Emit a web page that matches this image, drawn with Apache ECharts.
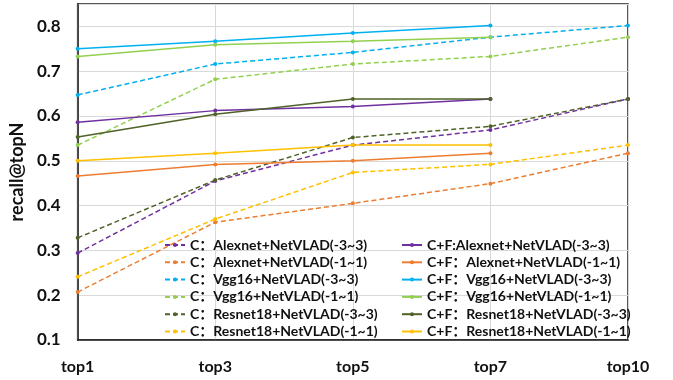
<!DOCTYPE html>
<html><head><meta charset="utf-8">
<script src="https://cdn.jsdelivr.net/npm/echarts@6/dist/echarts.min.js"></script>
<style>html,body{margin:0;padding:0;background:#fff}#c{width:673px;height:380px}</style>
</head><body><div id="c"></div>
<script>
var categories = ['top1','top3','top5','top7','top10'];
var colors = ['#7030A0','#ED7D31','#00B0F0','#92D050','#4F6228','#FFC000'];
var cLabels = ['C：Alexnet+NetVLAD(-3~3)','C：Alexnet+NetVLAD(-1~1)','C：Vgg16+NetVLAD(-3~3)','C：Vgg16+NetVLAD(-1~1)','C：Resnet18+NetVLAD(-3~3)','C：Resnet18+NetVLAD(-1~1)'];
var cfLabels = ['C+F:Alexnet+NetVLAD(-3~3)','C+F：Alexnet+NetVLAD(-1~1)','C+F：Vgg16+NetVLAD(-3~3)','C+F：Vgg16+NetVLAD(-1~1)','C+F：Resnet18+NetVLAD(-3~3)','C+F：Resnet18+NetVLAD(-1~1)'];
// C (dashed)
var cAlex33 = [0.294, 0.455, 0.535, 0.569, 0.638];
var cAlex11 = [0.207, 0.363, 0.405, 0.449, 0.517];
var cVgg33  = [0.647, 0.716, 0.742, 0.776, 0.802];
var cVgg11  = [0.535, 0.682, 0.716, 0.733, 0.776];
var cRes33  = [0.328, 0.457, 0.552, 0.577, 0.638];
var cRes11  = [0.241, 0.370, 0.474, 0.492, 0.535];
// C+F (solid)
var cfAlex33 = [0.586, 0.612, 0.621, 0.638, null];
var cfAlex11 = [0.466, 0.492, 0.500, 0.517, null];
var cfVgg33  = [0.750, 0.767, 0.785, 0.802, null];
var cfVgg11  = [0.733, 0.759, 0.767, 0.776, null];
var cfRes33  = [0.553, 0.604, 0.638, 0.638, null];
var cfRes11  = [0.500, 0.517, 0.535, 0.535, null];
var yMin = 0.1, yMax = 0.85, yInterval = 0.1;

var cData = [cAlex33,cAlex11,cVgg33,cVgg11,cRes33,cRes11];
var cfData = [cfAlex33,cfAlex11,cfVgg33,cfVgg11,cfRes33,cfRes11];
var FONT = 'Lato, "Noto Sans CJK SC", sans-serif';
var series = [];
cData.forEach(function(d,i){
  series.push({name:cLabels[i], type:'line', data:d, symbol:'circle', symbolSize:4, showSymbol:true,
    itemStyle:{color:colors[i]}, lineStyle:{color:colors[i], width:1.5, type:[5,3]}, z:2});
});
cfData.forEach(function(d,i){
  series.push({name:cfLabels[i], type:'line', data:d, symbol:'circle', symbolSize:4, showSymbol:true,
    itemStyle:{color:colors[i]}, lineStyle:{color:colors[i], width:1.5, type:'solid'}, z:3});
});
var legendText = {fontFamily:FONT, fontWeight:'bold', fontSize:14, lineHeight:14, color:'#111'};
var chart = echarts.init(document.getElementById('c'));
chart.setOption({
  animation:false,
  backgroundColor:'#fff',
  color:colors,
  grid:{left:70, right:45, top:4, bottom:40, show:true, borderColor:'#222', borderWidth:1.5, backgroundColor:'transparent'},
  legend:[
    {data:cLabels, orient:'vertical', left:164, top:238, itemWidth:20, itemHeight:5, itemGap:3.3, textStyle:legendText, padding:0},
    {data:cfLabels, orient:'vertical', left:401, top:238, itemWidth:20, itemHeight:5, itemGap:3.3, textStyle:legendText, padding:0}
  ],
  xAxis:{type:'category', data:categories, boundaryGap:false,
    axisLine:{lineStyle:{color:'#222', width:1.5}}, axisTick:{show:false},
    axisLabel:{fontFamily:FONT, fontWeight:'bold', fontSize:16, color:'#111', margin:19},
    splitLine:{show:true, lineStyle:{color:'#d9d9d9', width:1}}},
  yAxis:{type:'value', min:yMin, max:yMax, interval:yInterval,
    name:'recall@topN', nameLocation:'middle', nameGap:36,
    nameTextStyle:{fontFamily:FONT, fontWeight:'bold', fontSize:18, color:'#111'},
    axisLine:{show:true, lineStyle:{color:'#222', width:1.5}}, axisTick:{show:false},
    axisLabel:{fontFamily:FONT, fontWeight:'bold', fontSize:17, color:'#111', margin:17, showMaxLabel:false,
      formatter:function(v){return v.toFixed(1);}},
    splitLine:{show:true, lineStyle:{color:'#d9d9d9', width:1}}},
  series:series
});
</script></body></html>
